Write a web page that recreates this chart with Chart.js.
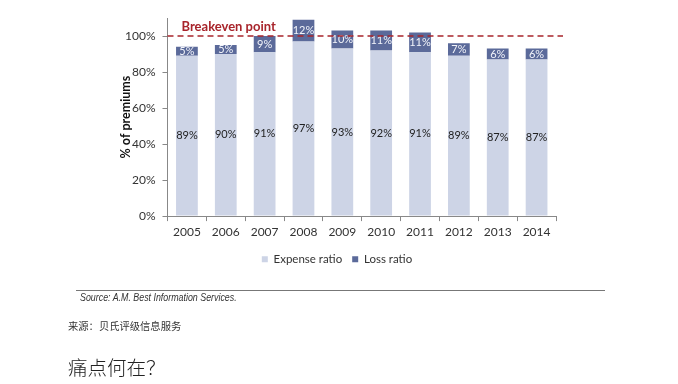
<!DOCTYPE html>
<html>
<head>
<meta charset="utf-8">
<script src="https://cdn.jsdelivr.net/npm/chart.js@4/dist/chart.umd.min.js"></script>
<style>
  html, body { margin: 0; padding: 0; background: #fff; }
  #wrap { position: relative; width: 678px; height: 384px; overflow: hidden; }
  #c { position: absolute; left: 0; top: 0; }
  .rule { position: absolute; left: 76px; top: 290px; width: 529px; height: 0; border-top: 1px solid #777; }
  .src { position: absolute; left: 80px; top: 291px; font-family: "Liberation Sans", sans-serif; font-style: italic; font-size: 10.8px; color: #333; white-space: nowrap; transform: scaleX(0.82); transform-origin: 0 0; }
  .cn1 { position: absolute; left: 68px; top: 318px; font-family: "Noto Sans CJK SC", sans-serif; font-size: 10.3px; color: #333; white-space: nowrap; }
  .cn2 { position: absolute; left: 68px; top: 352px; font-family: "Noto Sans CJK SC", sans-serif; font-size: 19.5px; font-weight: 300; color: #222; white-space: nowrap; }
</style>
</head>
<body>
<div id="wrap">
  <canvas id="c" width="678" height="384"></canvas>
  <div class="rule"></div>
  <div class="src">Source: A.M. Best Information Services.</div>
  <div class="cn1">来源：贝氏评级信息服务</div>
  <div class="cn2">痛点何在？</div>
</div>
<script>
const years = ["2005","2006","2007","2008","2009","2010","2011","2012","2013","2014"];
const expenseRatio = [89, 90, 91, 97, 93, 92, 91, 89, 87, 87];
const lossRatio = [5, 5, 9, 12, 10, 11, 11, 7, 6, 6];
const breakeven = 100;
const yTickValues = [0, 20, 40, 60, 80, 100];
const seriesNames = ["Expense ratio", "Loss ratio"];
const breakevenLabel = "Breakeven point";
const yTitle = "% of premiums";

const FONT = "Lato, 'Open Sans', sans-serif";

const overlay = {
  id: 'overlay',
  afterDatasetsDraw(chart) {
    const ctx = chart.ctx;
    const ca = chart.chartArea;
    const y = chart.scales.y.getPixelForValue(breakeven);
    ctx.save();
    ctx.textAlign = 'center';
    ctx.textBaseline = 'middle';
    ctx.font = "11px " + FONT;
    chart.data.datasets.forEach((ds, di) => {
      const meta = chart.getDatasetMeta(di);
      meta.data.forEach((bar, i) => {
        const cy = (bar.y + bar.base) / 2;
        ctx.fillStyle = di === 0 ? '#222222' : '#f2f4fa';
        ctx.fillText(ds.data[i] + '%', bar.x, cy);
      });
    });
    ctx.strokeStyle = '#a8242b';
    ctx.lineWidth = 1.6;
    ctx.setLineDash([6, 4]);
    ctx.beginPath();
    ctx.moveTo(ca.left, y);
    ctx.lineTo(ca.right + 7, y);
    ctx.stroke();
    ctx.setLineDash([]);
    ctx.fillStyle = '#a8242b';
    ctx.font = "bold 13px " + FONT;
    ctx.textAlign = 'left';
    ctx.textBaseline = 'middle';
    ctx.fillText(breakevenLabel, ca.left + 14, y - 9);
    ctx.restore();
  }
};

new Chart(document.getElementById('c'), {
  type: 'bar',
  data: {
    labels: years,
    datasets: [
      { label: seriesNames[0], data: expenseRatio, backgroundColor: '#cdd4e6', barPercentage: 0.56, categoryPercentage: 1.0 },
      { label: seriesNames[1], data: lossRatio, backgroundColor: '#5b6a9a', barPercentage: 0.56, categoryPercentage: 1.0 }
    ]
  },
  options: {
    responsive: false,
    animation: false,
    layout: { padding: { left: 118, right: 122, top: 18, bottom: 109 } },
    plugins: {
      legend: {
        position: 'bottom',
        labels: { boxWidth: 6, boxHeight: 6, color: '#333', font: { family: FONT, size: 11.5 }, padding: 10 }
      },
      tooltip: { enabled: false }
    },
    scales: {
      x: {
        stacked: true,
        grid: { display: true, drawOnChartArea: false, drawTicks: true, tickLength: 5, color: '#888', offset: true },
        border: { display: true, color: '#888' },
        ticks: { color: '#333', font: { family: FONT, size: 12 }, padding: 4 },
      },
      y: {
        stacked: true,
        min: 0, max: 110,
        afterBuildTicks(scale) { scale.ticks = yTickValues.map(v => ({ value: v })); },
        grid: { display: true, drawOnChartArea: false, drawTicks: true, tickLength: 5, color: '#888' },
        border: { display: true, color: '#888' },
        ticks: { color: '#333', font: { family: FONT, size: 12 }, padding: 7, callback: v => v + '%' },
        title: { display: true, text: yTitle, color: '#111', font: { family: FONT, size: 12.5, weight: 'bold' }, padding: { top: 0, bottom: -15 } }
      }
    }
  },
  plugins: [overlay]
});
</script>
</body>
</html>
